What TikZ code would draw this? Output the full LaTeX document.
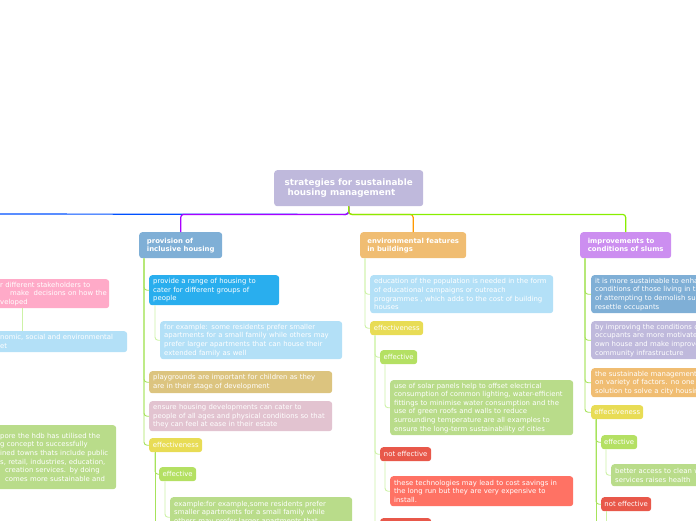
\documentclass[tikz,border=0pt]{standalone}
\usepackage{fontspec}
\setmainfont{DejaVu Sans}
\definecolor{rootc}{HTML}{BFB9DC}
\definecolor{steel}{HTML}{7FAFD6}
\definecolor{sky}{HTML}{29AEEE}
\definecolor{pale}{HTML}{B3E0F7}
\definecolor{khaki}{HTML}{DCC47F}
\definecolor{rose}{HTML}{E2C3D0}
\definecolor{yel}{HTML}{E8DC55}
\definecolor{grn}{HTML}{B4E063}
\definecolor{sage}{HTML}{B9DC8A}
\definecolor{redc}{HTML}{E8584A}
\definecolor{salmon}{HTML}{FF7264}
\definecolor{amber}{HTML}{F0BD72}
\definecolor{lilac}{HTML}{CC8EF0}
\definecolor{pinkc}{HTML}{FFAAC8}
\definecolor{lineblue}{HTML}{0050FF}
\definecolor{linepurple}{HTML}{AA00FF}
\definecolor{lineorange}{HTML}{FF9900}
\definecolor{linegreen}{HTML}{88EE00}
\definecolor{twig}{HTML}{A6E35A}
\definecolor{twiglight}{HTML}{CDF2A6}
\tikzset{
  box/.style={rounded corners=3pt, fill=#1, text=white, anchor=north west,
    inner xsep=4pt, inner ysep=0pt, align=left,
    font=\fontsize{6.9}{8.6}\selectfont},
  tag/.style={rounded corners=3pt, fill=#1, text=white, anchor=north west,
    inner sep=0pt, minimum height=14pt, font=\fontsize{6.9}{8.6}\selectfont},
  topic/.style={rounded corners=3pt, fill=#1, text=white, anchor=north west,
    inner sep=0pt, align=left, font=\bfseries\fontsize{6.9}{8}\selectfont},
  link/.style={draw=#1, line width=1.2pt, rounded corners=3pt},
  twigline/.style={draw=#1, line width=0.9pt, rounded corners=3pt},
}
\begin{document}
\begin{tikzpicture}[x=1pt,y=-1pt]
\useasboundingbox (0,0) rectangle (696,520);

% main topic
\node[topic=rootc, minimum width=149pt, minimum height=36pt,
  font=\bfseries\fontsize{8.8}{10.3}\selectfont] (root) at (274,170)
  {strategies for sustainable\\\hspace*{3pt}housing management};

% branches
\node[topic=steel, minimum width=83pt, minimum height=26pt] (prov) at (139,232)
  {provision of\\inclusive housing};
\node[topic=amber, minimum width=106pt, minimum height=26pt] (env) at (360,232)
  {environmental features\\in buildings};
\node[topic=lilac, minimum width=91pt, minimum height=26pt] (slums) at (580,232)
  {improvements to\\conditions of slums};
\coordinate (offleft) at (-20,214);

\draw[link=lineblue] (root.south) -- ++(0,8) -- (offleft);
\draw[link=linepurple] (root.south) -- ++(0,8) -| (prov.north);
\draw[link=lineorange] (root.south) -- ++(0,8) -| (env.north);
\draw[link=linegreen] (root.south) -- ++(0,8) -| (slums.north);

% left branch (cut off)
\node[box=pinkc, text width=105pt, minimum height=29pt] (lpink) at (-4,279)
  {r different stakeholders to\\\mbox{\hspace*{10pt}make \ decisions on how the}\\veloped};
\node[box=pale, text width=123pt, minimum height=21pt] (lblue) at (-4,331)
  {nomic, social and environmental\\et};
\node[box=sage, text width=112pt, minimum height=64pt] (lgreen) at (-4,425)
  {pore the hdb has utilised the\\g concept to successfully\\ined towns thats include public\\s, retail, industries, education,\\\hspace*{5pt}creation services. by doing\\\hspace*{5pt}comes more sustainable and};
\draw[twigline=twiglight] ([xshift=26pt]lpink.south west) -- ++(0,23);

% provision of inclusive housing
\node[box=sky, text width=122pt, minimum height=30pt] (provide) at (149,275)
  {provide a range of housing to\\cater for different groups of\\people};
\node[box=pale, text width=174pt, minimum height=38pt] (forex) at (160,321)
  {for example: some residents prefer smaller\\apartments for a small family while others may\\prefer larger apartments that can house their\\extended family as well};
\node[box=khaki, text width=175pt, minimum height=22pt] (play) at (149,371)
  {playgrounds are important for children as they\\are in their stage of development};
\node[box=rose, text width=175pt, minimum height=30pt] (ensure) at (149,401)
  {ensure housing developments can cater to\\people of all ages and physical conditions so that\\they can feel at ease in their estate};
\node[tag=yel, minimum width=53pt] (effA) at (149,438) {effectiveness};
\node[tag=grn, minimum width=37pt] (effvA) at (159,467) {effective};
\node[box=sage, text width=174pt, minimum height=40pt] (exA) at (170,497)
  {example:for example,some residents prefer\\smaller apartments for a small family while\\others may prefer larger apartments that\\can house their extended family as well};

\foreach \kid in {provide,play,ensure,effA}
  \draw[twigline=twig] ([xshift=5pt]prov.south west) |- (\kid.west);
\draw[twigline=twiglight] ([xshift=6pt]provide.south west) |- (forex.west);
\draw[twigline=twig] ([xshift=6pt]effA.south west) |- (effvA.west);
\draw[twigline=twig] ([xshift=6pt]effA.south west) -- ++(0,90);
\draw[twigline=twiglight] ([xshift=6pt]effvA.south west) |- (exA.west);

% environmental features in buildings
\node[box=pale, text width=175pt, minimum height=38pt] (educ) at (370,275)
  {education of the population is needed in the form\\of educational campaigns or outreach\\programmes , which adds to the cost of building\\houses};
\node[tag=yel, minimum width=53pt] (effB) at (370,321) {effectiveness};
\node[tag=grn, minimum width=37pt] (effvB) at (380,350) {effective};
\node[box=sage, text width=175pt, minimum height=55pt] (solar) at (390,380)
  {use of solar panels help to offset electrical\\consumption of common lighting, water-efficient\\fittings to minimise water consumption and the\\use of green roofs and walls to reduce\\surrounding temperature are all examples to\\ensure the long-term sustainability of cities};
\node[tag=redc, minimum width=51pt] (noteffB) at (380,447) {not effective};
\node[box=salmon, text width=175pt, minimum height=30pt] (tech) at (390,476)
  {these technologies may lead to cost savings in\\the long run but they are very expensive to\\install.};
\node[tag=redc, minimum width=51pt] (nextB) at (380,518) {};

\foreach \kid in {educ,effB}
  \draw[twigline=twiglight] ([xshift=5pt]env.south west) |- (\kid.west);
\foreach \kid in {effvB,noteffB,nextB}
  \draw[twigline=twiglight] ([xshift=5pt]effB.south west) |- (\kid.west);
\draw[twigline=twiglight] ([xshift=5pt]effvB.south west) |- (solar.west);
\draw[twigline=twiglight] ([xshift=5pt]noteffB.south west) |- (tech.west);

% improvements to conditions of slums
\node[box=steel, text width=175pt, minimum height=38pt] (enh) at (591,275)
  {it is more sustainable to enhance the\\conditions of those living in the slums instead\\of attempting to demolish such slums and\\resettle occupants};
\node[box=rootc, text width=175pt, minimum height=38pt] (impr) at (591,321)
  {by improving the conditions of the slums,\\occupants are more motivated to upgrade their\\own house and make improvements to the\\community infrastructure};
\node[box=amber, text width=175pt, minimum height=29pt] (mgmt) at (591,368)
  {the sustainable management of slums depends\\on variety of factors. no one size fits all\\solution to solve a city housing problem};
\node[tag=yel, minimum width=52pt] (effC) at (591,405) {effectiveness};
\node[tag=grn, minimum width=36pt] (effvC) at (601,435) {effective};
\node[box=sage, text width=175pt, minimum height=22pt] (access) at (611,464)
  {better access to clean water and sanitation\\services raises health};
\node[tag=redc, minimum width=50pt] (noteffC) at (601,497) {not effective};

\foreach \kid in {enh,impr,mgmt,effC}
  \draw[twigline=twig] ([xshift=5pt]slums.south west) |- (\kid.west);
\foreach \kid in {effvC,noteffC}
  \draw[twigline=twig] ([xshift=5pt]effC.south west) |- (\kid.west);
\draw[twigline=twig] ([xshift=5pt]effC.south west) -- ++(0,130);
\draw[twigline=twiglight] ([xshift=5pt]effvC.south west) |- (access.west);
\draw[twigline=twiglight] ([xshift=5pt]noteffC.south west) -- ++(0,30);

\end{tikzpicture}
\end{document}
